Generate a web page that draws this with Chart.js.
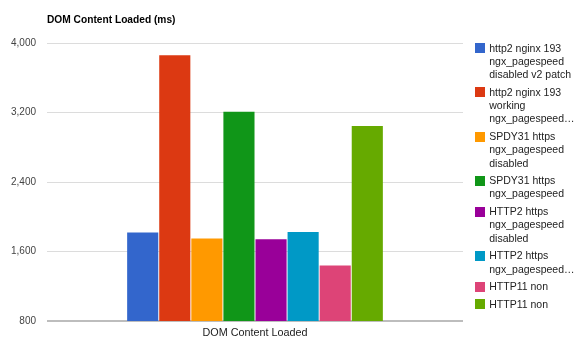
<!DOCTYPE html>
<html>
<head>
<meta charset="utf-8">
<script src="https://cdn.jsdelivr.net/npm/chart.js@4/dist/chart.umd.min.js"></script>
<style>
  html, body { margin: 0; padding: 0; background: #fff; }
  #wrap { position: relative; width: 574px; height: 346px; }
  canvas { position: absolute; left: 0; top: 0; }
  #legend { position: absolute; left: 474.7px; top: 41.6px; font-family: "Liberation Sans", Arial, sans-serif; font-size: 10.5px; line-height: 13.3px; color: #222; }
  .item { position: relative; padding-left: 14.6px; margin-bottom: 4.3px; white-space: nowrap; }
  .box { position: absolute; left: 0; top: 1.7px; width: 10px; height: 10px; }
</style>
</head>
<body>
<div id="wrap">
  <canvas id="c" width="574" height="346"></canvas>
  <div id="legend"></div>
</div>
<script>
const chartTitle = "DOM Content Loaded (ms)";
const categories = ["DOM Content Loaded"];
const seriesLabels = [
  ["http2 nginx 193", "ngx_pagespeed", "disabled v2 patch"],
  ["http2 nginx 193", "working", "ngx_pagespeed…"],
  ["SPDY31 https", "ngx_pagespeed", "disabled"],
  ["SPDY31 https", "ngx_pagespeed"],
  ["HTTP2 https", "ngx_pagespeed", "disabled"],
  ["HTTP2 https", "ngx_pagespeed…"],
  ["HTTP11 non"],
  ["HTTP11 non"]
];
const seriesValues = [1820, 3860, 1750, 3210, 1740, 1825, 1440, 3045];
const seriesColors = ["#3366cc", "#dc3912", "#ff9900", "#109618", "#990099", "#0099c6", "#dd4477", "#66aa00"];
const yTicks = [800, 1600, 2400, 3200, 4000];

const FONT = '"Liberation Sans", Arial, sans-serif';

const datasets = seriesValues.map((v, i) => ({
  label: seriesLabels[i].join(" "),
  data: [v],
  backgroundColor: seriesColors[i],
  borderWidth: 0,
  barPercentage: 0.97,
  categoryPercentage: 0.617
}));

const titlePlugin = {
  id: 'leftTitle',
  afterDraw(chart) {
    const ctx = chart.ctx;
    ctx.save();
    ctx.font = 'bold 10.2px ' + FONT;
    ctx.fillStyle = '#000';
    ctx.textBaseline = 'middle';
    ctx.textAlign = 'left';
    ctx.fillText(chartTitle, chart.chartArea.left, 20.5);
    ctx.restore();
  }
};

new Chart(document.getElementById('c'), {
  type: 'bar',
  data: { labels: categories, datasets },
  options: {
    responsive: false,
    animation: false,
    layout: { padding: { top: 43, right: 111, bottom: 0, left: 0 } },
    plugins: { legend: { display: false }, tooltip: { enabled: false }, title: { display: false } },
    scales: {
      x: {
        grid: { display: false, drawTicks: false },
        border: { display: false },
        ticks: { color: '#222', font: { family: FONT, size: 10.8 }, padding: 6 },
        afterFit(s) { s.height = 25; }
      },
      y: {
        min: 800, max: 4000,
        afterBuildTicks(s) { s.ticks = yTicks.map(v => ({ value: v })); },
        grid: {
          drawTicks: false,
          color: c => c.tick && c.tick.value === 800 ? '#bdbdbd' : '#dcdcdc',
          lineWidth: c => c.tick && c.tick.value === 800 ? 2 : 1
        },
        border: { display: false },
        ticks: { color: '#444', font: { family: FONT, size: 10 }, padding: 11,
          callback: v => Number(v).toLocaleString('en-US') },
        afterFit(s) { s.width = 47; }
      }
    }
  },
  plugins: [titlePlugin]
});

const legend = document.getElementById('legend');
seriesLabels.forEach((lines, i) => {
  const it = document.createElement('div');
  it.className = 'item';
  const b = document.createElement('span');
  b.className = 'box';
  b.style.background = seriesColors[i];
  it.appendChild(b);
  lines.forEach((t, j) => {
    if (j) it.appendChild(document.createElement('br'));
    it.appendChild(document.createTextNode(t));
  });
  legend.appendChild(it);
});
</script>
</body>
</html>
